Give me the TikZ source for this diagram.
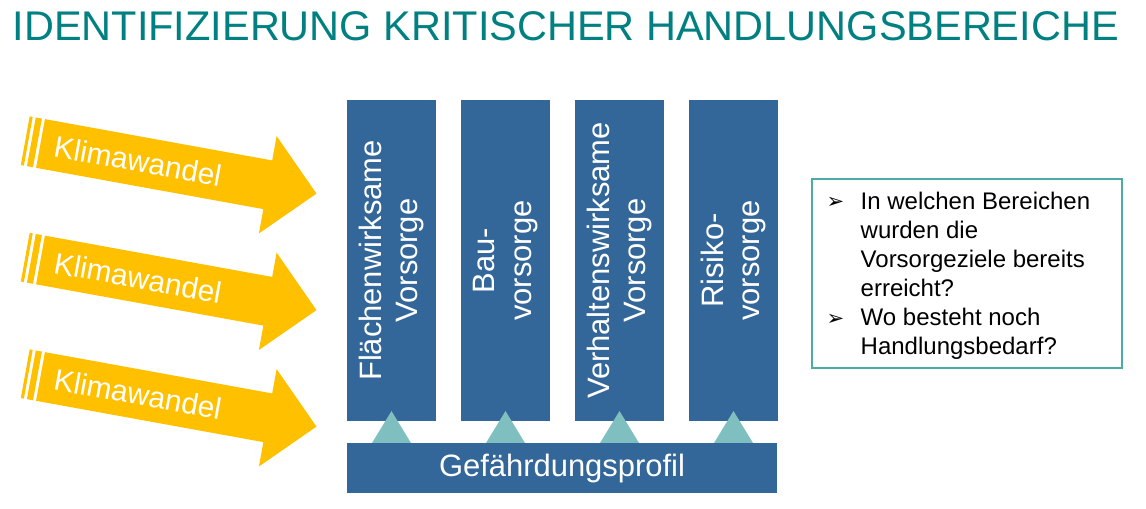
\documentclass[tikz,border=0pt]{standalone}
\usepackage{fontspec}
\setmainfont{Liberation Sans}
\newfontfamily\pfeilfont{DejaVu Sans}

\definecolor{titelgruen}{RGB}{0,128,128}
\definecolor{saeulenblau}{RGB}{51,102,153}
\definecolor{dreieckgruen}{RGB}{127,191,191}
\definecolor{rahmengruen}{RGB}{75,172,166}
\definecolor{klimagelb}{RGB}{255,192,0}

\newcommand{\punkt}{\makebox[0.34cm][l]{\raisebox{0.1pt}{\pfeilfont\fontsize{6}{6}\selectfont ➢}}}

\tikzset{
  titel/.style={text=titelgruen, inner sep=0pt, font=\fontsize{11.8}{14}\selectfont},
  saeule/.style={fill=saeulenblau, text=white, rotate=90, minimum width=3.21cm,
    minimum height=0.89cm, inner sep=0pt, align=center, font=\fontsize{8.8}{10.5}\selectfont},
  profil/.style={fill=saeulenblau, text=white, minimum width=4.30cm, minimum height=0.50cm,
    inner sep=0pt, font=\fontsize{8.8}{10.5}\selectfont},
  dreieck/.style={fill=dreieckgruen},
  klima/.style={text=white, rotate=-10.3, inner sep=0pt, font=\fontsize{8.5}{10}\selectfont},
  fragenbox/.style={draw=rahmengruen, line width=0.6pt, minimum width=3.10cm, minimum height=1.89cm},
  fragentext/.style={inner sep=0pt, font=\fontsize{6.83}{8.3}\selectfont}
}

\begin{document}
\begin{tikzpicture}
  \useasboundingbox (0,0) rectangle (11.46,-5.08);

  % Titel
  \node[titel, anchor=base west] (titel) at (0.12,-0.40) {IDENTIFIZIERUNG KRITISCHER HANDLUNGSBEREICHE};

  % Pfeile Klimawandel
  \foreach \y/\name in {-1.407/pfeilA, -2.572/pfeilB, -3.737/pfeilC}{
    \begin{scope}[shift={(0.2525,\y)}, rotate=-10.3]
      \fill[klimagelb] (0,-0.2475) rectangle (0.031,0.2475);
      \fill[klimagelb] (0.062,-0.2475) rectangle (0.124,0.2475);
      \fill[klimagelb] (0.155,-0.2475) -- (2.465,-0.2475) -- (2.465,-0.495) -- (2.96,0)
        -- (2.465,0.495) -- (2.465,0.2475) -- (0.155,0.2475) -- cycle;
      \node[klima] (\name) at (1.145,0) {Klimawandel};
    \end{scope}
  }

  % Saeulen
  \foreach \x/\name/\txt in {3.915/flaeche/{Flächenwirksame\\Vorsorge},
                             5.055/bau/{Bau-\\vorsorge},
                             6.195/verhalten/{Verhaltenswirksame\\Vorsorge},
                             7.335/risiko/{Risiko-\\vorsorge}}{
    \node[saeule] (\name) at (\x,-2.605) {\txt};
  }

  % Dreiecke
  \foreach \x in {3.915, 5.055, 6.195, 7.335}{
    \fill[dreieck] (\x-0.195,-4.43) -- (\x,-4.11) -- (\x+0.195,-4.43) -- cycle;
  }

  % Gefaehrdungsprofil
  \node[profil] (profil) at (5.62,-4.68) {Gefährdungsprofil};

  % Fragen
  \node[fragenbox] (fragen) at (9.67,-2.735) {};
  \node[fragentext, anchor=base west] (fragentext) at (8.26,-2.09) {%
    \begin{tabular}[t]{@{}l@{}l@{}}
      \punkt & In welchen Bereichen\\
             & wurden die\\
             & Vorsorgeziele bereits\\
             & erreicht?\\
      \punkt & Wo besteht noch\\
             & Handlungsbedarf?
    \end{tabular}};
\end{tikzpicture}
\end{document}
